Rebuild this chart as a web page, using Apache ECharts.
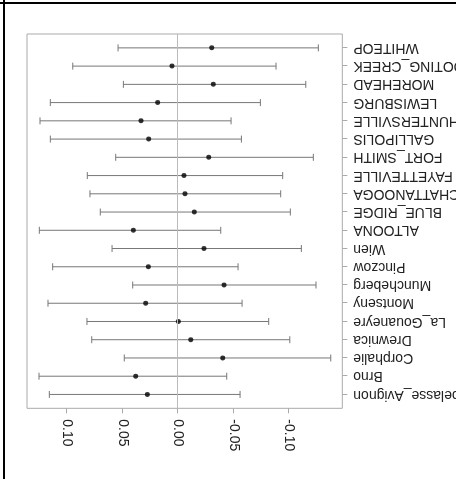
<!DOCTYPE html>
<html>
<head>
<meta charset="utf-8">
<script src="https://cdn.jsdelivr.net/npm/echarts@6/dist/echarts.min.js"></script>
<style>
html,body{margin:0;padding:0;background:#fff;overflow:hidden;width:456px;height:479px;}
#chart{position:absolute;left:0;top:0;width:456px;height:479px;transform:rotate(180deg);}
#fv{position:absolute;left:3px;top:0;width:2px;height:479px;background:#000;z-index:5;}
#fh{position:absolute;left:0;top:2px;width:456px;height:2px;background:#000;z-index:5;}
</style>
</head>
<body>
<div id="chart"></div>
<div id="fv"></div>
<div id="fh"></div>
<script>
// Categories, top to bottom in the unrotated plot
const categories = ["Abelasse_Avignon","Brno","Corphalie","Drewnica","La_Gouaneyre","Montseny","Muncheberg","Pinczow","Wien","ALTOONA","BLUE_RIDGE","CHATTANOOGA","FAYETTEVILLE","FORT_SMITH","GALLIPOLIS","HUNTERSVILLE","LEWISBURG","MOREHEAD","SHOOTING_CREEK","WHITEOP"];
const lower =    [-0.0557,-0.0437,-0.1374,-0.1005,-0.0815,-0.0575,-0.1241,-0.0539,-0.1109,-0.0383,-0.1010,-0.0923,-0.0941,-0.1217,-0.0569,-0.0476,-0.0740,-0.1149,-0.0881,-0.1262];
const estimate = [ 0.0278, 0.0383,-0.0401,-0.0113,-0.0001, 0.0293,-0.0413, 0.0269,-0.0232, 0.0404,-0.0145,-0.0061,-0.0052,-0.0275, 0.0266, 0.0335, 0.0185,-0.0316, 0.0056,-0.0302];
const upper =    [ 0.1161, 0.1254, 0.0486, 0.0779, 0.0822, 0.1173, 0.0410, 0.1131, 0.0596, 0.1251, 0.0702, 0.0795, 0.0819, 0.0563, 0.1152, 0.1245, 0.1152, 0.0494, 0.0950, 0.0542];
const xTicks = [-0.10,-0.05,0.00,0.05,0.10];

const idx = categories.map((_, i) => i);
const barData = idx.map(i => [i, lower[i], upper[i]]);
const pointData = idx.map(i => [estimate[i], i]);

const chart = echarts.init(document.getElementById('chart'), null, {renderer:'canvas'});
const FONT = '"Liberation Sans", Arial, sans-serif';
chart.setOption({
  animation: false,
  grid: {left: 113.7, right: 27, top: 70.7, bottom: 34, containLabel: false, outerBoundsMode: 'none',
    show: true, borderColor: '#aaa', borderWidth: 1, backgroundColor: 'transparent'},
  xAxis: {
    type: 'value', position: 'top', min: -0.1478, max: 0.1362,
    splitLine: {show: false},
    axisLine: {show: false, onZero: false},
    axisTick: {show: true, inside: false, length: 5, lineStyle: {color: '#aaa'}, customValues: xTicks},
    axisLabel: {customValues: xTicks, rotate: -90, margin: 11, color: '#222', fontSize: 14, fontFamily: FONT,
      formatter: v => v.toFixed(2)}
  },
  yAxis: {
    type: 'value', inverse: true, min: -0.76, max: 19.76,
    splitLine: {show: false},
    axisLine: {show: false, onZero: false},
    axisTick: {show: true, inside: false, length: 5, lineStyle: {color: '#aaa'}, customValues: idx},
    axisLabel: {customValues: idx, margin: 11, color: '#222', fontSize: 14, fontFamily: FONT,
      formatter: v => categories[Math.round(v)]}
  },
  series: [
    {
      type: 'custom',
      data: barData,
      encode: {x: [1, 2], y: 0},
      z: 2,
      renderItem: function (params, api) {
        const y = api.value(0);
        const p1 = api.coord([api.value(1), y]);
        const p2 = api.coord([api.value(2), y]);
        const c = 3.5;
        const st = {stroke: '#777', lineWidth: 1};
        return {type: 'group', children: [
          {type: 'line', shape: {x1: p1[0], y1: p1[1], x2: p2[0], y2: p2[1]}, style: st},
          {type: 'line', shape: {x1: p1[0], y1: p1[1] - c, x2: p1[0], y2: p1[1] + c}, style: st},
          {type: 'line', shape: {x1: p2[0], y1: p2[1] - c, x2: p2[0], y2: p2[1] + c}, style: st}
        ]};
      }
    },
    {
      type: 'scatter',
      data: pointData,
      symbol: 'circle',
      symbolSize: 5,
      itemStyle: {color: '#000'},
      z: 3,
      markLine: {
        silent: true, symbol: 'none', label: {show: false},
        lineStyle: {color: '#bbb', type: 'solid', width: 1},
        data: [{xAxis: 0}]
      }
    }
  ]
});
</script>
</body>
</html>
